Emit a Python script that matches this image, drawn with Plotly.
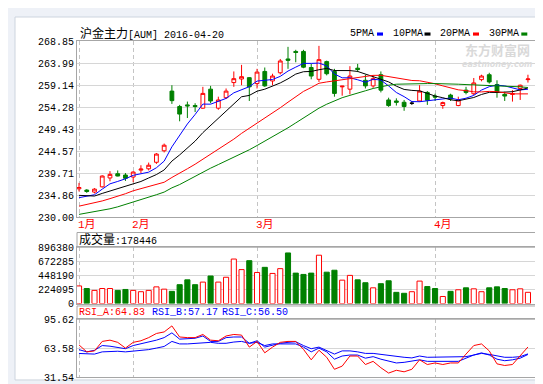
import plotly.graph_objects as go

# ---------------- data ----------------
dates = [
    "2016-01-21", "2016-01-22", "2016-01-25", "2016-01-26", "2016-01-27", "2016-01-28", "2016-01-29",
    "2016-02-01", "2016-02-02", "2016-02-03", "2016-02-04", "2016-02-05",
    "2016-02-15", "2016-02-16", "2016-02-17", "2016-02-18", "2016-02-19",
    "2016-02-22", "2016-02-23", "2016-02-24", "2016-02-25", "2016-02-26", "2016-02-29",
    "2016-03-01", "2016-03-02", "2016-03-03", "2016-03-04",
    "2016-03-07", "2016-03-08", "2016-03-09", "2016-03-10", "2016-03-11",
    "2016-03-14", "2016-03-15", "2016-03-16", "2016-03-17", "2016-03-18",
    "2016-03-21", "2016-03-22", "2016-03-23", "2016-03-24", "2016-03-25",
    "2016-03-28", "2016-03-29", "2016-03-30", "2016-03-31",
    "2016-04-01", "2016-04-05", "2016-04-06", "2016-04-07", "2016-04-08",
    "2016-04-11", "2016-04-12", "2016-04-13", "2016-04-14", "2016-04-15",
    "2016-04-18", "2016-04-19", "2016-04-20",
]

open_ = [236.28, 236.00, 235.56, 236.72, 238.67, 239.61, 239.32, 238.88, 240.40, 240.69,
         242.13, 244.66, 257.81, 254.41, 254.77, 254.63, 254.05, 258.24, 254.05, 256.36,
         259.69, 260.48, 260.77, 259.47, 262.14, 260.05, 261.85, 264.89, 266.55, 266.55,
         263.01, 260.41, 264.31, 262.14, 258.75, 258.24, 262.86, 260.19, 258.96, 261.42,
         255.86, 255.64, 255.35, 255.14, 255.64, 257.52, 256.72, 254.63, 256.94, 254.63,
         258.02, 257.23, 260.34, 261.42, 259.25, 257.09, 257.09, 258.39, 260.34]
high_ = [237.58, 236.20, 236.43, 239.25, 240.18, 240.33, 239.75, 240.18, 241.48, 242.06,
         244.16, 246.25, 259.11, 254.77, 255.50, 255.14, 258.75, 258.96, 256.58, 258.39,
         262.14, 263.59, 260.91, 262.72, 263.01, 261.64, 264.89, 267.56, 266.91, 266.91,
         263.80, 267.78, 264.52, 262.72, 258.96, 263.30, 263.80, 261.42, 261.28, 262.14,
         256.36, 256.22, 255.86, 255.64, 259.11, 257.81, 257.23, 255.50, 257.23, 256.58,
         258.75, 260.70, 261.42, 261.85, 260.19, 257.66, 258.02, 259.25, 261.42]
low_ = [235.70, 235.40, 235.27, 236.57, 237.94, 239.03, 238.02, 237.73, 239.75, 240.33,
        241.77, 244.30, 254.99, 251.16, 251.88, 253.19, 253.91, 255.14, 253.69, 256.07,
        258.75, 259.11, 255.64, 258.39, 258.75, 259.11, 261.49, 262.72, 264.16, 262.86,
        260.41, 259.83, 261.28, 256.58, 256.80, 257.09, 262.00, 258.39, 258.53, 257.52,
        254.34, 254.63, 253.47, 254.77, 255.50, 254.77, 255.64, 253.91, 255.64, 254.48,
        257.09, 256.94, 259.97, 259.47, 256.36, 255.64, 255.50, 255.86, 259.69]
close_ = [236.57, 235.70, 236.21, 239.10, 239.46, 239.10, 238.60, 239.97, 240.62, 241.48,
          243.94, 245.89, 255.71, 252.75, 254.56, 254.41, 257.30, 255.64, 255.86, 257.81,
          260.55, 260.99, 258.75, 262.00, 258.96, 261.13, 264.45, 264.60, 266.33, 263.08,
          261.13, 264.74, 261.64, 257.30, 258.90, 261.13, 262.57, 258.96, 260.55, 258.02,
          254.63, 255.35, 254.41, 255.14, 257.81, 255.79, 256.50, 255.28, 256.07, 255.86,
          257.52, 259.61, 261.13, 259.83, 257.52, 256.72, 257.23, 259.11, 260.48]

ma5 = [234.33, 234.69, 234.98, 236.21, 237.38, 237.91, 238.49, 239.25, 239.55, 239.95,
       240.92, 242.38, 245.53, 247.95, 250.57, 252.66, 254.95, 254.93, 255.55, 256.20,
       257.43, 258.17, 258.79, 260.02, 260.25, 260.37, 261.06, 262.23, 263.09, 263.92,
       263.92, 263.98, 263.38, 261.58, 260.74, 260.74, 260.31, 259.77, 260.42, 260.25,
       258.95, 257.50, 256.59, 255.51, 255.47, 255.70, 255.93, 256.10, 256.29, 255.90,
       256.25, 256.87, 258.04, 258.79, 259.12, 258.96, 258.49, 258.08, 258.21]
ma10 = [234.84, 234.77, 234.69, 235.27, 235.80, 236.30, 236.80, 237.30, 237.90, 238.67,
        239.42, 240.44, 242.39, 243.75, 245.26, 246.79, 248.66, 250.23, 251.75, 253.39,
        255.05, 256.56, 256.86, 257.79, 258.23, 258.90, 259.61, 260.51, 261.56, 262.08,
        262.14, 262.52, 262.81, 262.34, 262.33, 262.33, 262.14, 261.58, 261.00, 260.49,
        259.84, 258.90, 258.18, 257.97, 257.86, 257.32, 256.72, 256.35, 255.90, 255.68,
        255.97, 256.40, 257.07, 257.54, 257.51, 257.60, 257.68, 258.06, 258.50]
ma20 = [232.46, 232.82, 233.11, 233.61, 234.12, 234.62, 235.20, 235.85, 236.36, 236.79,
        237.30, 237.73, 238.78, 239.69, 240.70, 241.70, 242.80, 243.90, 245.00, 246.03,
        247.23, 248.50, 249.62, 250.77, 251.74, 252.85, 254.14, 255.37, 256.66, 257.74,
        258.60, 259.54, 259.83, 260.06, 260.28, 260.61, 260.88, 261.04, 261.28, 261.29,
        260.99, 260.71, 260.49, 260.15, 260.09, 259.83, 259.43, 258.96, 258.45, 258.09,
        257.91, 257.65, 257.63, 257.75, 257.68, 257.46, 257.20, 257.20, 257.20]
ma30 = [230.65, 230.94, 231.23, 231.52, 231.88, 232.31, 232.82, 233.39, 233.83, 234.41,
        234.98, 235.56, 236.50, 237.22, 238.16, 239.03, 239.97, 240.83, 241.63, 242.42,
        243.29, 244.08, 244.88, 245.82, 246.76, 247.70, 248.63, 249.72, 250.80, 251.88,
        252.90, 254.05, 254.92, 255.71, 256.36, 256.87, 257.30, 257.88, 258.39, 258.82,
        259.11, 259.33, 259.40, 259.40, 259.47, 259.47, 259.47, 259.47, 259.40, 259.33,
        259.25, 259.18, 259.11, 259.11, 259.11, 259.04, 258.89, 258.75, 258.60]

volume = [280000, 239000, 209000, 239000, 239000, 209000, 224000, 209000, 188000, 209000,
          265000, 229000, 194000, 300000, 377000, 300000, 341000, 438000, 341000, 418000,
          708000, 540000, 682000, 494000, 576000, 479000, 555000, 805000, 484000, 463000,
          484000, 769000, 499000, 530000, 372000, 448000, 377000, 331000, 250000, 316000,
          362000, 178000, 163000, 188000, 357000, 270000, 239000, 112000, 194000, 219000,
          250000, 234000, 188000, 250000, 265000, 239000, 219000, 234000, 178446]

rsi_a = [67.14, 59.41, 60.46, 71.00, 72.40, 69.95, 63.63, 69.95, 71.70, 75.20,
         79.80, 81.50, 88.20, 75.90, 75.20, 75.20, 78.70, 72.40, 71.70, 77.00,
         78.70, 78.00, 64.68, 71.00, 58.36, 64.68, 69.95, 71.00, 71.00, 62.20,
         50.60, 61.20, 53.40, 40.10, 43.60, 54.80, 54.80, 45.40, 48.90, 41.80,
         35.90, 39.00, 37.30, 40.10, 50.60, 45.40, 47.10, 45.40, 47.10, 47.10,
         56.95, 66.40, 68.20, 60.50, 46.10, 44.30, 45.40, 54.80, 64.83]
rsi_b = [61.87, 59.41, 61.17, 66.40, 65.70, 64.68, 62.90, 66.40, 68.20, 69.95,
         72.40, 75.20, 80.50, 73.50, 74.20, 74.50, 77.00, 71.00, 71.00, 75.20,
         75.90, 75.90, 68.90, 71.70, 64.70, 67.10, 68.90, 69.95, 70.60, 66.40,
         62.90, 64.70, 61.20, 56.95, 60.50, 60.50, 59.40, 57.70, 57.70, 56.60,
         54.80, 54.10, 53.40, 52.70, 54.80, 53.40, 53.40, 53.40, 53.40, 53.40,
         54.10, 55.90, 57.70, 56.60, 54.80, 53.40, 53.40, 54.10, 57.17]
rsi_c = [57.65, 56.95, 56.95, 59.40, 60.10, 60.10, 59.40, 60.10, 61.20, 61.90,
         63.60, 65.40, 71.00, 68.20, 68.20, 68.90, 69.95, 69.95, 68.90, 68.90,
         70.30, 71.00, 68.90, 69.95, 66.40, 68.20, 68.20, 68.20, 68.20, 64.70,
         59.40, 63.60, 59.40, 51.30, 54.80, 55.90, 55.90, 52.40, 54.10, 51.30,
         48.90, 47.10, 47.80, 48.90, 50.60, 48.90, 48.90, 48.90, 48.90, 48.90,
         52.40, 55.90, 58.30, 55.90, 51.30, 49.60, 50.60, 52.40, 56.50]

price_ticks = [230.00, 234.86, 239.71, 244.57, 249.43, 254.28, 259.14, 263.99, 268.85]
volume_ticks = [0, 224095, 448190, 672285, 896380]
rsi_ticks = [31.54, 63.58, 95.62]
month_labels = ["1月", "2月", "3月", "4月"]
ma_names = ["5PMA", "10PMA", "20PMA", "30PMA"]

# ---------------- styling / geometry ----------------
W, H = 543, 384
L, R, T, B = 69, 528, 33, 376
RED, GREEN, BLUE = "#ff0000", "#008000", "#0000ff"
FONT = "Liberation Mono, Noto Sans CJK SC, monospace"
BOX = "#a6a6a6"
GRID = "#d6d6d6"


def px(x):
    return (x - L) / (R - L)


def py(y):
    return (B - y) / (B - T)


x = list(range(len(dates)))
month_starts = [i for i in x if i == 0 or dates[i][5:7] != dates[i - 1][5:7]]

up = [i for i in x if close_[i] > open_[i]]
dn = [i for i in x if close_[i] < open_[i]]
dj = [i for i in x if close_[i] == open_[i]]

fig = go.Figure()


def candles(idx, line_col, fill_up, fill_dn, dn_col):
    return go.Candlestick(
        x=[x[i] for i in idx], open=[open_[i] for i in idx], high=[high_[i] for i in idx],
        low=[low_[i] for i in idx], close=[close_[i] for i in idx],
        increasing=dict(line=dict(color=line_col, width=1), fillcolor=fill_up),
        decreasing=dict(line=dict(color=dn_col, width=1), fillcolor=fill_dn),
        whiskerwidth=0, xaxis="x", yaxis="y", hoverinfo="skip")


fig.add_trace(candles(up, RED, "#ffffff", GREEN, GREEN))
fig.add_trace(candles(dn, RED, "#ffffff", GREEN, GREEN))
fig.add_trace(candles(dj, "#000000", "#000000", "#000000", "#000000"))

for ser, col in [(ma5, BLUE), (ma10, "#000000"), (ma20, RED), (ma30, GREEN)]:
    fig.add_trace(go.Scatter(x=x, y=ser, mode="lines", line=dict(color=col, width=1),
                             xaxis="x", yaxis="y", hoverinfo="skip"))

vol_up = [close_[i] >= open_[i] for i in x]
fig.add_trace(go.Bar(
    x=x, y=volume, width=0.66,
    marker=dict(color=["#ffffff" if u else GREEN for u in vol_up],
                line=dict(color=[RED if u else GREEN for u in vol_up], width=1)),
    xaxis="x2", yaxis="y2", hoverinfo="skip"))

for ser, col in [(rsi_c, BLUE), (rsi_b, BLUE), (rsi_a, RED)]:
    fig.add_trace(go.Scatter(x=x, y=ser, mode="lines", line=dict(color=col, width=1),
                             xaxis="x3", yaxis="y3", hoverinfo="skip"))

xcommon = dict(range=[-0.26, 59.04], tickvals=month_starts, showticklabels=False,
               showgrid=True, gridcolor="#c4c4c4", griddash="4px,3px", gridwidth=1,
               showline=True, linecolor=BOX, linewidth=1, mirror=True,
               zeroline=False, ticks="", fixedrange=True)
ycommon = dict(showgrid=True, gridcolor=GRID, gridwidth=1, showline=True, linecolor=BOX,
               linewidth=1, mirror=True, zeroline=False, ticks="",
               tickfont=dict(family=FONT, size=10, color="#000000"), fixedrange=True)

fig.update_layout(
    width=W, height=H,
    margin=dict(l=L, r=W - R, t=T, b=H - B, pad=0),
    paper_bgcolor="#eef1f7", plot_bgcolor="#ffffff",
    showlegend=False, hovermode=False,
    xaxis=dict(**xcommon, domain=[0, 1], anchor="y", rangeslider=dict(visible=False)),
    xaxis2=dict(**xcommon, domain=[0, 1], anchor="y2", matches="x"),
    xaxis3=dict(**xcommon, domain=[0, 1], anchor="y3", matches="x"),
    yaxis=dict(**ycommon, domain=[py(213), 1], anchor="x", range=[230, 268.85],
               tickvals=price_ticks, ticktext=["%.2f" % v for v in price_ticks]),
    yaxis2=dict(**ycommon, domain=[py(301), py(243.5)], anchor="x2", range=[0, 896380],
                tickvals=volume_ticks, ticktext=[str(v) for v in volume_ticks]),
    yaxis3=dict(**ycommon, domain=[0, py(317)], anchor="x3", range=[31.54, 95.62],
                tickvals=rsi_ticks, ticktext=["%.2f" % v for v in rsi_ticks]),
    bargap=0.3,
)

shapes = [
    # white card behind the chart
    dict(type="rect", xref="paper", yref="paper", x0=px(7), x1=px(533), y0=py(379), y1=py(8.5),
         fillcolor="#ffffff", line=dict(color="#cdd4de", width=1), layer="below"),
    # header boxes of the volume and RSI panels
    dict(type="rect", xref="paper", yref="paper", x0=0, x1=1, y0=py(243.5), y1=py(228.5),
         line=dict(color=BOX, width=1), layer="above"),
    dict(type="rect", xref="paper", yref="paper", x0=0, x1=1, y0=py(317), y1=py(303.5),
         line=dict(color=BOX, width=1), layer="above"),
]

annotations = []


def txt(s, x0, yc, color="#000000", size=10, anchor="left", family=FONT, **kw):
    annotations.append(dict(text=s, xref="paper", yref="paper", x=px(x0), y=py(yc),
                            xanchor=anchor, yanchor="middle", showarrow=False,
                            font=dict(family=family, size=size, color=color),
                            borderpad=0, **kw))


# title
txt('<span style="font-size:12px">沪金主力</span>[AUM] 2016-04-20', 70.5, 25.5)

# MA legend: label followed by a small colour bar
leg_x = [341, 383.5, 431, 479.5]
bar_x = [369, 416.5, 465, 513.3]
for name, lx, bx, col in zip(ma_names, leg_x, bar_x, [BLUE, "#000000", RED, GREEN]):
    txt(name, lx, 25.5)
    shapes.append(dict(type="rect", xref="paper", yref="paper", x0=px(bx), x1=px(bx + 6),
                       y0=py(27.5), y1=py(24.3), fillcolor=col, line=dict(width=0)))

# watermark
txt("<b>东方财富网</b>", 489, 41.5, color="#d9d9d9", size=13, anchor="center",
    family="Noto Sans CJK SC")
txt("<b><i>eastmoney.com</i></b>", 489, 56.5, color="#dcdcdc", size=8, anchor="center",
    family="DejaVu Sans")

# month labels under the price panel
for lab, i in zip(month_labels, month_starts):
    annotations.append(dict(text=lab, xref="x", yref="paper", x=i, y=py(220.5),
                            xanchor="left", yanchor="middle", xshift=-2, showarrow=False,
                            borderpad=0,
                            font=dict(family=FONT, size=11, color=RED)))

# volume header
txt('<span style="font-size:12px">成交量</span>:%d' % volume[-1], 70, 236)

# RSI header
txt("RSI_A:%.2f" % rsi_a[-1], 70, 310.5, color=RED)
txt("RSI_B:%.2f" % rsi_b[-1], 142.5, 310.5, color=BLUE)
txt("RSI_C:%.2f" % rsi_c[-1], 213, 310.5, color=BLUE)

fig.update_layout(shapes=shapes, annotations=annotations)

fig.write_html("out.html", config={"displayModeBar": False, "staticPlot": True})
